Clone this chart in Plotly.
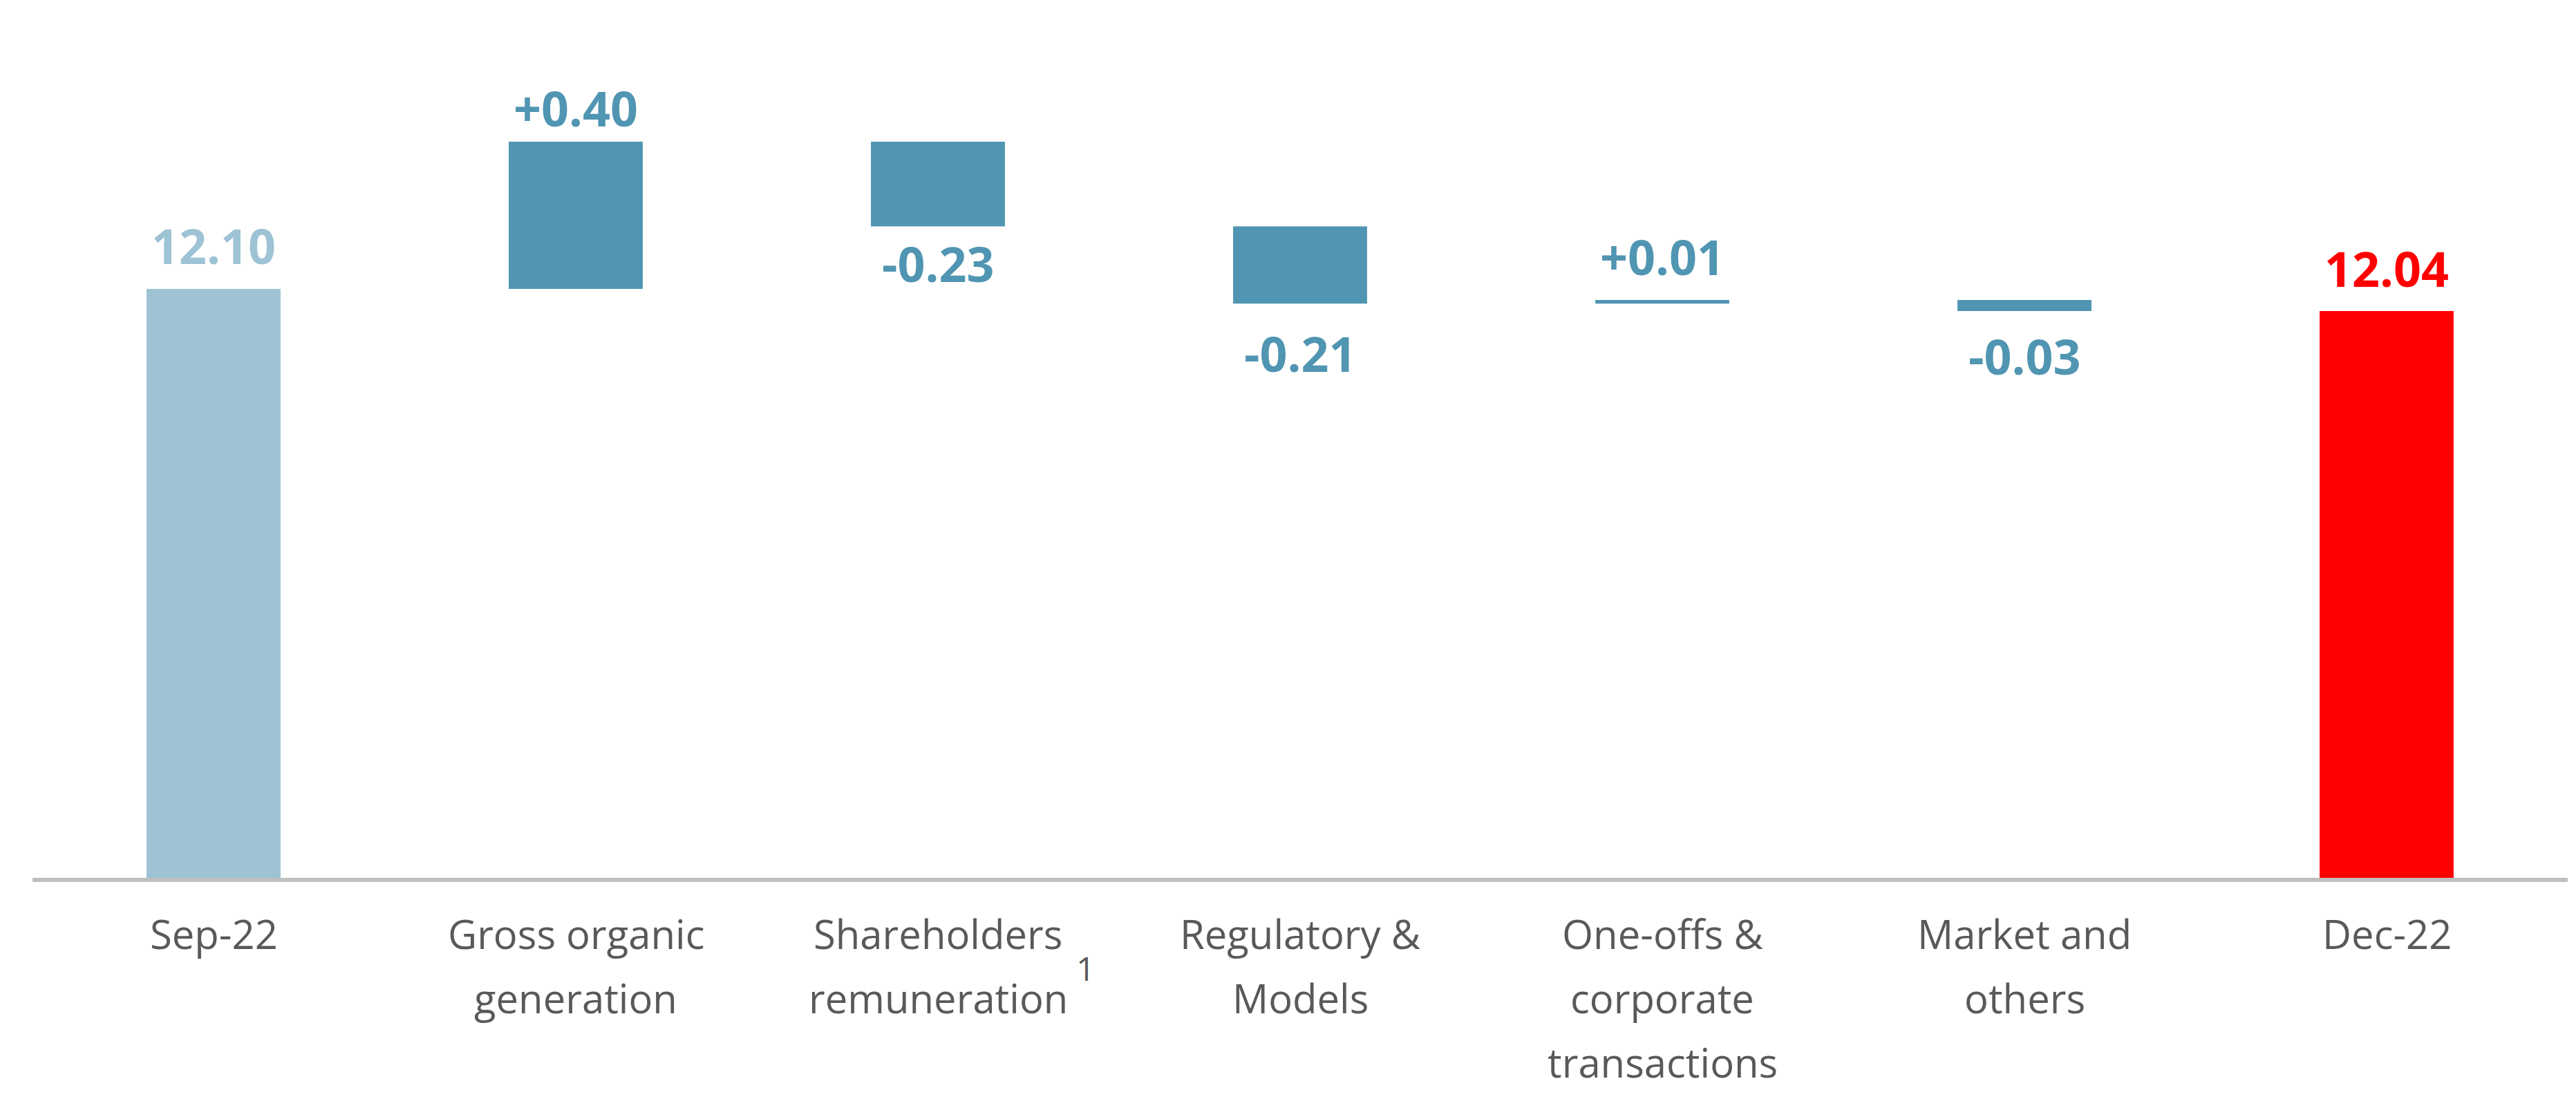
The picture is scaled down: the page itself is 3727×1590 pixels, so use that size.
import plotly.graph_objects as go

# ---- data ----
categories = ["Sep-22", "Gross organic generation", "Shareholders remuneration",
              "Regulatory & Models", "One-offs & corporate transactions",
              "Market and others", "Dec-22"]
label_lines = [["Sep-22"], ["Gross organic", "generation"], ["Shareholders", "remuneration"],
               ["Regulatory &", "Models"], ["One-offs &", "corporate", "transactions"],
               ["Market and", "others"], ["Dec-22"]]
start_value = 12.10
changes = [0.40, -0.23, -0.21, 0.01, -0.03]
end_value = 12.04
footnote_category = "Shareholders remuneration"
footnote_mark = "1"

# ---- styles ----
C_START = "#9DC3D4"
C_STEP = "#5095B2"
C_END = "#FF0000"
C_TEXT = "#595959"
FONT = "Open Sans"
AXIS_MIN = 10.5
PX_PER_UNIT = 532.5
PLOT_H = 1262

# build bars
bases, heights, colors, label_texts, label_y, label_side = [], [], [], [], [], []
bases.append(0); heights.append(start_value); colors.append(C_START)
label_texts.append(f"{start_value:.2f}"); label_y.append(start_value); label_side.append(1)
running = start_value
for d in changes:
    new = running + d
    bases.append(min(running, new)); heights.append(abs(d)); colors.append(C_STEP)
    label_texts.append(f"{d:+.2f}")
    label_y.append(new)
    label_side.append(1 if d >= 0 else -1)
    running = new
bases.append(0); heights.append(end_value); colors.append(C_END)
label_texts.append(f"{end_value:.2f}"); label_y.append(end_value); label_side.append(1)

label_colors = [C_START] + [C_STEP] * len(changes) + [C_END]
label_offsets = [63, 49, 54, 72, 63, 65, 62]

fig = go.Figure()
fig.add_trace(go.Bar(x=categories, y=heights, base=bases, marker=dict(color=colors, line=dict(width=0)),
                     hoverinfo="skip", showlegend=False))

annotations = []
for cat, txt, yv, side, col, off in zip(categories, label_texts, label_y, label_side, label_colors, label_offsets):
    annotations.append(dict(x=cat, y=yv, xref="x", yref="y", text=txt, showarrow=False,
                            yanchor="middle", yshift=side * off,
                            font=dict(family=FONT, size=70, color=col, weight="bold")))

line_shifts = [-80, -173, -266]
for cat, lines in zip(categories, label_lines):
    for k, ln in enumerate(lines):
        annotations.append(dict(x=cat, y=0, xref="x", yref="paper", text=ln, showarrow=False,
                                yanchor="middle", yshift=line_shifts[k],
                                font=dict(family=FONT, size=58, color=C_TEXT)))
annotations.append(dict(x=footnote_category, y=0, xref="x", yref="paper", text=footnote_mark,
                        showarrow=False, yanchor="middle", xshift=213, yshift=-130,
                        font=dict(family=FONT, size=48, color=C_TEXT)))

fig.update_layout(
    width=3719, height=1582,
    margin=dict(l=39, r=12, t=0, b=320),
    paper_bgcolor="white", plot_bgcolor="white",
    bargap=0.63,
    annotations=annotations,
    xaxis=dict(showline=True, linecolor="#BFBFBF", linewidth=6, showticklabels=False,
               ticks="", showgrid=False, zeroline=False, fixedrange=True),
    yaxis=dict(range=[AXIS_MIN, AXIS_MIN + PLOT_H / PX_PER_UNIT], visible=False,
               showgrid=False, zeroline=False),
)

fig.write_html("out.html")
